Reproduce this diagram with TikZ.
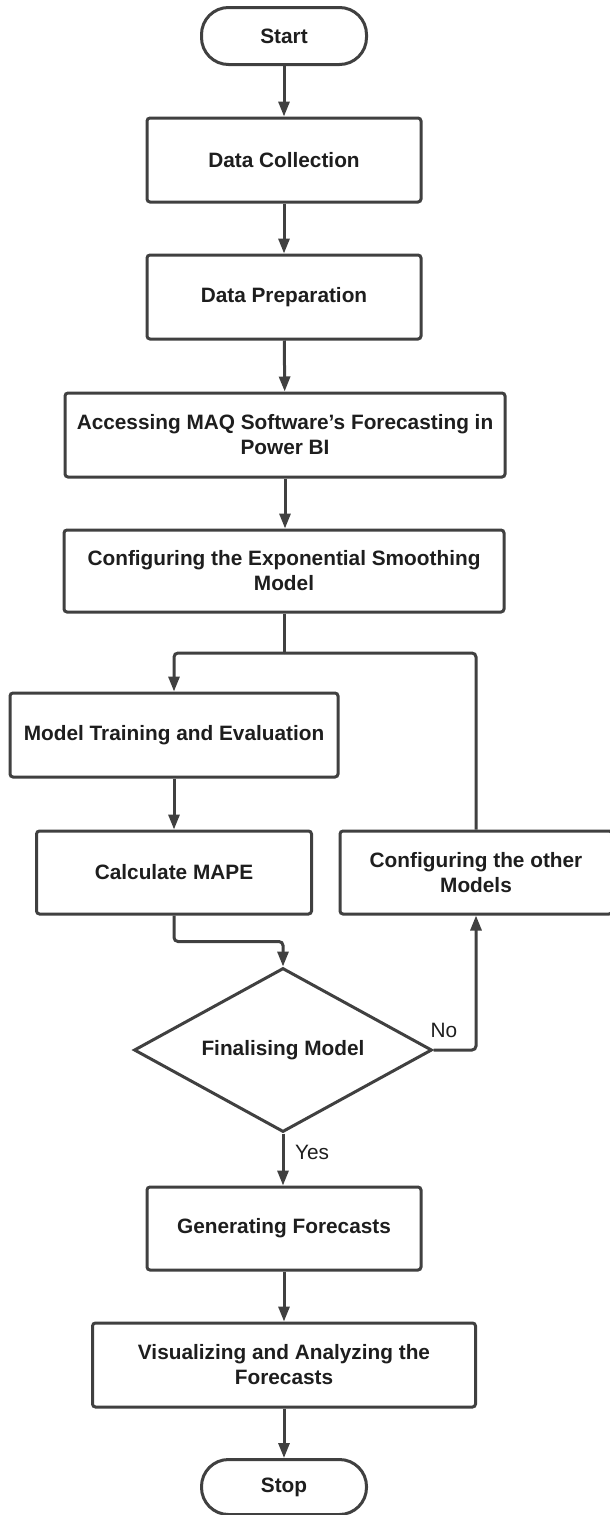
\documentclass[tikz,border=0pt]{standalone}
\usepackage{fontspec}
\setmainfont{Liberation Sans}
\usetikzlibrary{shapes.geometric,arrows.meta}
\definecolor{ln}{HTML}{404040}
\definecolor{tx}{HTML}{1E1E1E}
\begin{document}
\begin{tikzpicture}[x=1pt,y=-1pt,
  box/.style={draw=ln,line width=3pt,fill=white,rounded corners=3pt,inner sep=0pt,align=center,text=tx,font=\fontsize{20.8}{25}\selectfont\bfseries},
  term/.style={box,rounded corners=27pt},
  dec/.style={box,diamond,rounded corners=0pt,aspect=1.8},
  arr/.style={draw=ln,line width=3pt,rounded corners=4pt,-{Triangle[length=15pt,width=11pt]}},
  conn/.style={draw=ln,line width=3pt,rounded corners=4pt},
  lab/.style={text=tx,font=\fontsize{20.8}{25}\selectfont,inner sep=0pt}]
\useasboundingbox[fill=white] (0,0) rectangle (610,1515);

\node[term,minimum width=165pt,minimum height=57pt] (start) at (284,36) {Start};
\node[box,minimum width=274pt,minimum height=84pt] (dc) at (284,160) {Data Collection};
\node[box,minimum width=274pt,minimum height=84pt] (dp) at (284,297) {Data Preparation};
\node[box,minimum width=440pt,minimum height=84pt] (acc) at (285,435) {Accessing MAQ Software's Forecasting in\\Power BI};
\node[box,minimum width=440pt,minimum height=82pt] (cfg) at (284,571) {Configuring the Exponential Smoothing\\Model};
\node[box,minimum width=328pt,minimum height=84pt] (mt) at (174,735) {Model Training and Evaluation};
\node[box,minimum width=275pt,minimum height=83pt] (mape) at (174,872.5) {Calculate MAPE};
\node[box,minimum width=272pt,minimum height=83pt] (other) at (476,872.5) {Configuring the other\\Models};
\node[dec,minimum width=298pt,minimum height=164pt] (fm) at (283,1050) {Finalising Model};
\node[box,minimum width=274pt,minimum height=83pt] (gf) at (284,1228.5) {Generating Forecasts};
\node[box,minimum width=383pt,minimum height=84pt] (vis) at (284,1365) {Visualizing and Analyzing the\\Forecasts};
\node[term,minimum width=165pt,minimum height=55pt] (stop) at (284,1487) {Stop};

\coordinate (j) at (284,653);
\coordinate (jr) at (476,653);

\draw[arr] (start) -- (dc);
\draw[arr] (dc) -- (dp);
\draw[arr] (dp) -- (acc);
\draw[arr] (acc.south) -- (acc.south |- cfg.north);
\draw[conn] (cfg.south) -- (j);
\draw[arr] (j) -| (mt.north);
\draw[conn] (other.north) -- (jr) -- (j);
\draw[arr] (mt) -- (mape);
\draw[arr] (mape.south) -- ++(0,26) -| (fm.north);
\draw[arr] (fm.east) -| (other.south);
\draw[arr] (fm.south) -- (fm.south |- gf.north);
\draw[arr] (gf.south) -- (gf.south |- vis.north);
\draw[arr] (vis) -- (stop);

\node[lab] (no) at (444,1030) {No};
\node[lab] (yes) at (312,1152) {Yes};
\end{tikzpicture}
\end{document}
